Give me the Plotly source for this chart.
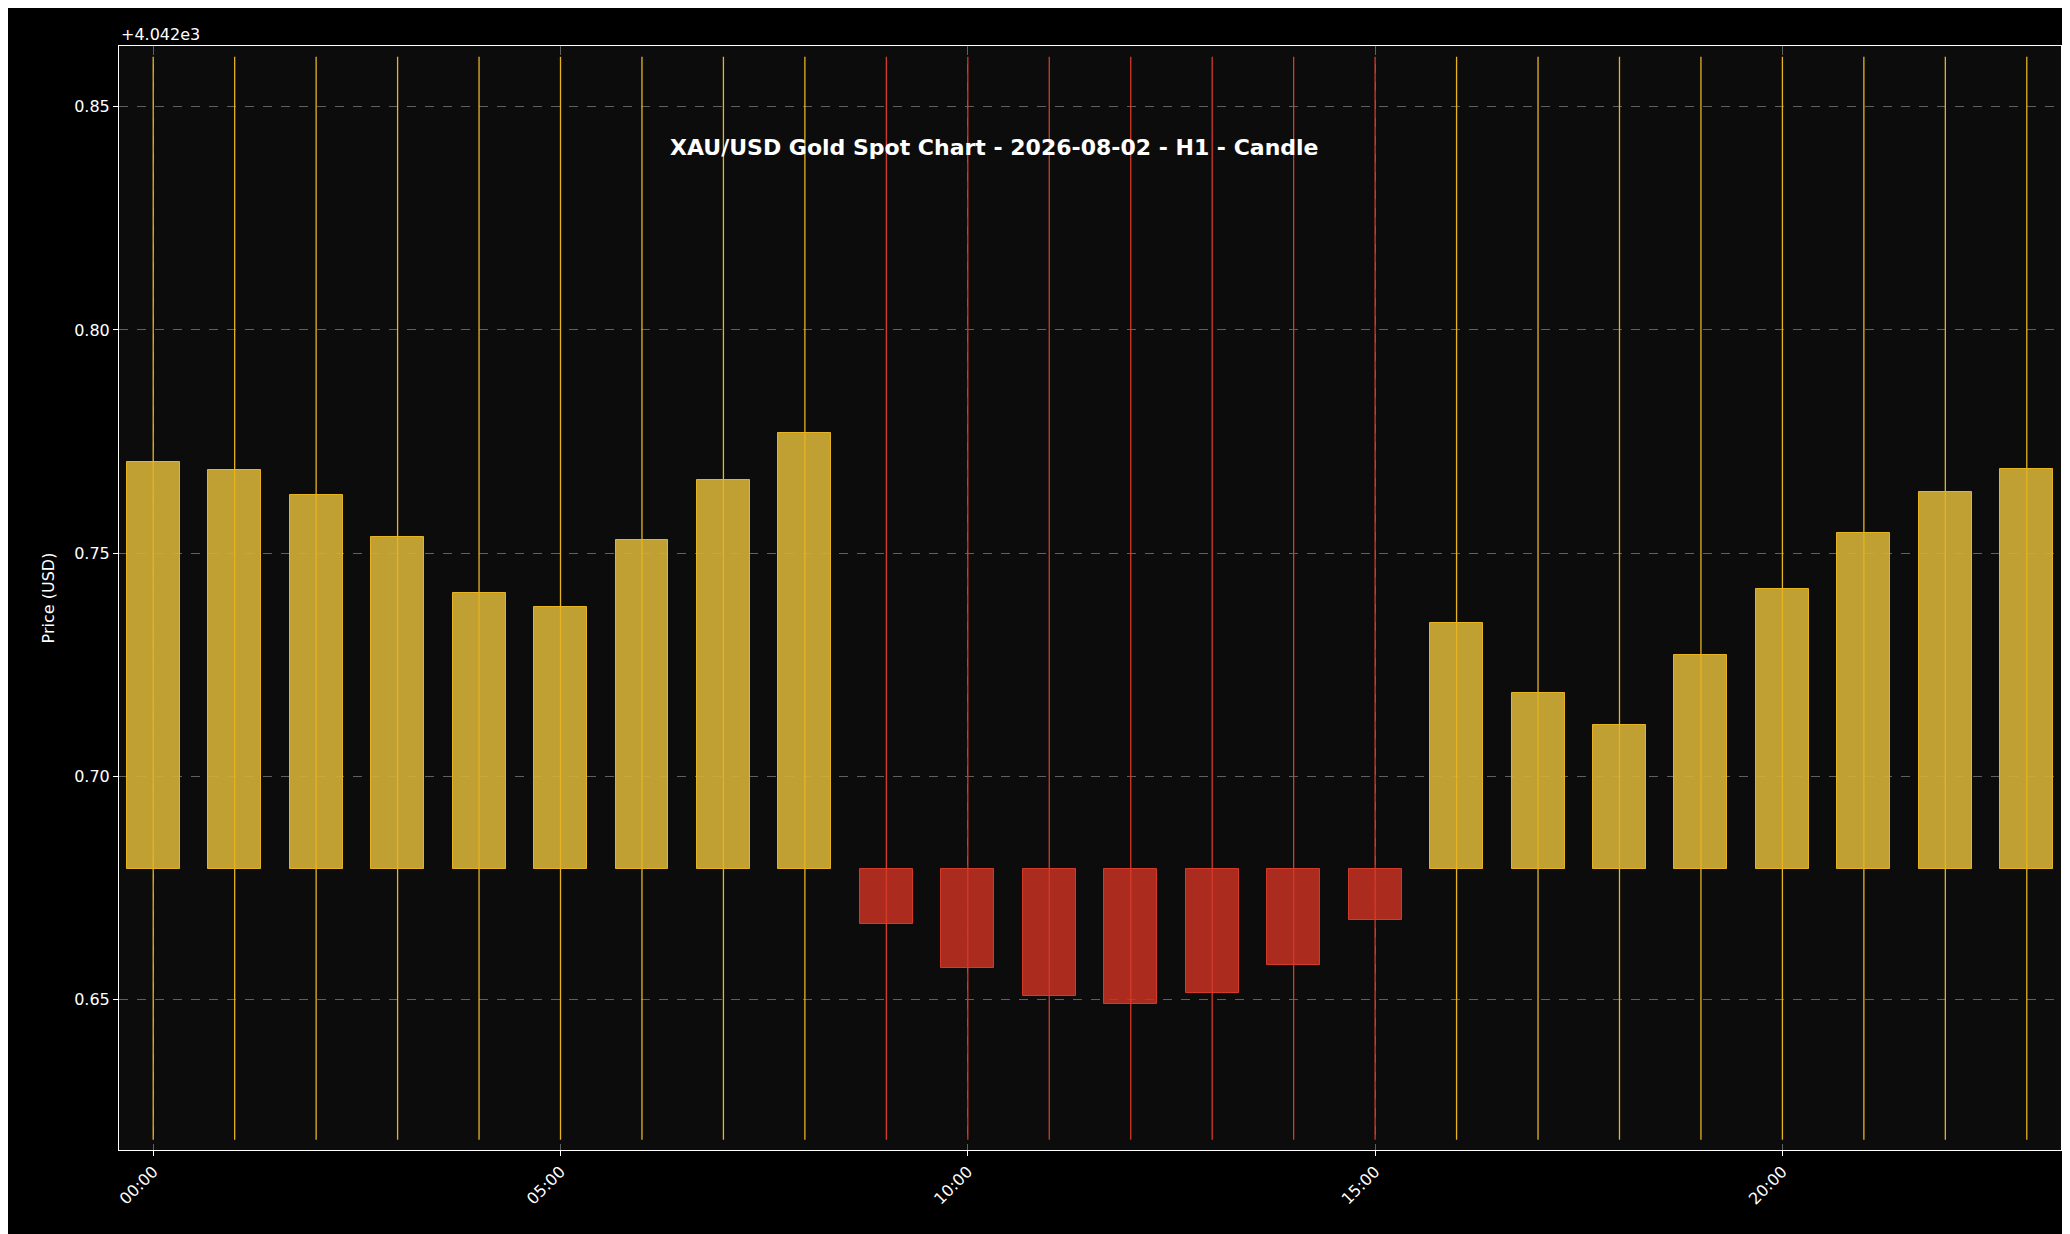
import plotly.graph_objects as go

hours = list(range(24))
labels = [f"{h:02d}:00" for h in hours]
open_p = [4042.6793] * 24
close_p = [4042.7704, 4042.7686, 4042.7630, 4042.7536, 4042.7411, 4042.7379, 4042.7530, 4042.7663,
           4042.7769, 4042.6669, 4042.6571, 4042.6509, 4042.6491, 4042.6515, 4042.6577, 4042.6678,
           4042.7343, 4042.7186, 4042.7115, 4042.7272, 4042.7420, 4042.7544, 4042.7636, 4042.7689]
high_p = [4042.8612] * 24
low_p = [4042.6186] * 24

ytick_vals = [4042.65, 4042.70, 4042.75, 4042.80, 4042.85]
ytick_text = ["0.65", "0.70", "0.75", "0.80", "0.85"]
xtick_vals = [0, 5, 10, 15, 20]
xtick_text = ["00:00", "05:00", "10:00", "15:00", "20:00"]

UP_FILL = "rgba(212,175,55,0.9)"
UP_LINE = "#e6b422"
DN_FILL = "rgba(200,50,35,0.85)"
DN_LINE = "#d43a2a"

fig = go.Figure()
for up in (True, False):
    xs, ys = [], []
    for h, o, c, hi, lo in zip(hours, open_p, close_p, high_p, low_p):
        if (c >= o) == up:
            xs += [h, h, None]
            ys += [lo, hi, None]
    fig.add_trace(go.Scatter(x=xs, y=ys, mode="lines", line=dict(color=UP_LINE if up else DN_LINE, width=1.3),
                             showlegend=False, hoverinfo="skip"))
colors = [UP_FILL if c >= o else DN_FILL for o, c in zip(open_p, close_p)]
lcolors = [UP_LINE if c >= o else DN_LINE for o, c in zip(open_p, close_p)]
fig.add_trace(go.Bar(x=hours, y=[c - o for o, c in zip(open_p, close_p)], base=open_p, width=0.65,
                     marker=dict(color=colors, line=dict(color=lcolors, width=1)), showlegend=False))

fig.update_layout(
    width=2070, height=1234, paper_bgcolor="black", plot_bgcolor="#0c0c0c",
    margin=dict(l=111, r=17, t=38, b=92), font=dict(family="DejaVu Sans", color="white", size=16),
    bargap=0,
    annotations=[
        dict(text="<b>XAU/USD Gold Spot Chart - 2026-08-02 - H1 - Candle</b>", x=0.451, y=0.921,
             xref="paper", yref="paper", showarrow=False, font=dict(size=22, color="white")),
        dict(text="+4.042e3", x=0, y=1.0, xref="paper", yref="paper", xanchor="left", yanchor="bottom",
             showarrow=False, font=dict(size=16, color="white")),
    ],
)
fig.update_xaxes(range=[-0.42, 23.42], tickvals=xtick_vals, ticktext=xtick_text, tickangle=-45,
                 showgrid=True, gridcolor="rgba(200,200,200,0.45)", griddash="dash", zeroline=False,
                 showline=True, linecolor="white", mirror=True, ticks="outside", tickcolor="white")
fig.update_yaxes(range=[4042.6163, 4042.8636], tickvals=ytick_vals, ticktext=ytick_text,
                 title=dict(text="Price (USD)", font=dict(size=16)),
                 showgrid=True, gridcolor="rgba(200,200,200,0.45)", griddash="dash", zeroline=False,
                 showline=True, linecolor="white", mirror=True, ticks="outside", tickcolor="white")
fig.write_html("out.html")
